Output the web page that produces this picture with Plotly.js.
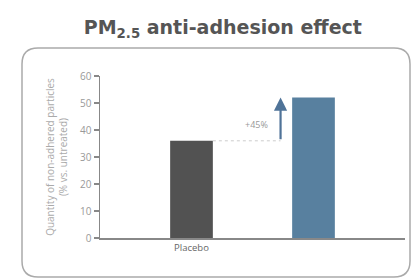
<!DOCTYPE html>
<html><head><meta charset="utf-8">
<script src="https://cdn.plot.ly/plotly-3.0.1.min.js"></script>
<style>html,body{margin:0;padding:0;background:#fff}#chart{width:415px;height:280px}</style>
</head><body><div id="chart"></div>
<script>
const categories = ["Placebo", "Treated"];
const tickLabels = ["Placebo", " "];
const values = [36, 52];
const barColors = ["#525252", "#58809f"];
const deltaLabel = "+45%";

const W = 415, H = 280, L = 100, R = 10, T = 76, B = 42;
const pw = W - L - R, ph = H - T - B;
const px = v => (v - L) / pw;
const py = v => (H - B - v) / ph;

// rounded frame path in paper coords
const x0 = 22, x1 = 410, y0 = 48, y1 = 277, rr = 16;
const framePath = [
  `M ${px(x0)},${py(y1 - rr)}`,
  `L ${px(x0)},${py(y0 + rr)}`,
  `Q ${px(x0)},${py(y0)} ${px(x0 + rr)},${py(y0)}`,
  `L ${px(x1 - rr)},${py(y0)}`,
  `Q ${px(x1)},${py(y0)} ${px(x1)},${py(y0 + rr)}`,
  `L ${px(x1)},${py(y1 - rr)}`,
  `Q ${px(x1)},${py(y1)} ${px(x1 - rr)},${py(y1)}`,
  `L ${px(x0 + rr)},${py(y1)}`,
  `Q ${px(x0)},${py(y1)} ${px(x0)},${py(y1 - rr)}`
].join(' ');

const arrowX = 0.73;

const data = [{
  type: 'bar',
  x: [0, 1],
  y: values,
  width: 0.35,
  marker: {color: barColors},
  hoverinfo: 'skip'
}];

const layout = {
  width: W, height: H,
  margin: {l: L, r: R, t: T, b: B, pad: 0},
  paper_bgcolor: '#fff', plot_bgcolor: '#fff',
  showlegend: false,
  font: {family: 'Open Sans, sans-serif', color: '#888'},
  title: {
    text: 'PM<sub>2.5</sub> anti-adhesion effect',
    x: 0.537, xref: 'container', y: 0.925, yref: 'container', xanchor: 'center',
    font: {size: 19, color: '#555', family: 'DejaVu Sans, sans-serif', weight: 'bold'}
  },
  xaxis: {
    range: [-0.75, 1.75],
    tickmode: 'array', tickvals: [0, 1], ticktext: tickLabels,
    showgrid: false, zeroline: false,
    showline: true, linecolor: '#888', linewidth: 1.5,
    ticks: '', tickfont: {size: 9.5, color: '#666'},
    fixedrange: true
  },
  yaxis: {
    range: [0, 60],
    tickvals: [0, 10, 20, 30, 40, 50, 60],
    showgrid: false, zeroline: false,
    showline: true, linecolor: '#888', linewidth: 1.5,
    ticks: 'outside', ticklen: 5, tickcolor: '#888', tickwidth: 1.2,
    tickfont: {size: 10, color: '#999'},
    title: {
      text: 'Quantity of non-adhered particles<br>(% vs. untreated)',
      font: {size: 10, color: '#aaa'},
      standoff: 10
    },
    fixedrange: true
  },
  shapes: [
    {type: 'path', xref: 'paper', yref: 'paper', path: framePath,
     line: {color: '#aaa', width: 1.5}, layer: 'below'},
    {type: 'line', xref: 'x', yref: 'y', x0: 0.175, x1: arrowX, y0: values[0], y1: values[0],
     line: {color: '#ccc', width: 1, dash: 'dot'}}
  ],
  annotations: [
    {xref: 'x', yref: 'y', axref: 'x', ayref: 'y',
     x: arrowX, y: values[1], ax: arrowX, ay: values[0],
     text: '', showarrow: true, arrowhead: 2, arrowsize: 1.2, arrowwidth: 2.2,
     arrowcolor: '#4f7398'},
    {xref: 'x', yref: 'y', x: 0.53, y: 42, text: deltaLabel, showarrow: false,
     font: {size: 9, color: '#999'}}
  ]
};

Plotly.newPlot('chart', data, layout, {displayModeBar: false, staticPlot: true});
</script></body></html>
